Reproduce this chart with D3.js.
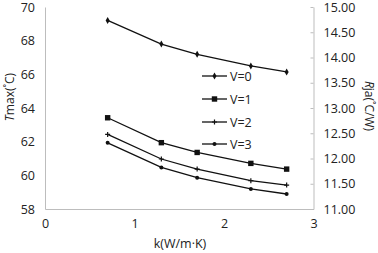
<!DOCTYPE html>
<html><head><meta charset="utf-8">
<script src="https://cdn.jsdelivr.net/npm/d3@7"></script>
<style>body{margin:0;background:#fff}svg text{font-family:"Open Sans",sans-serif;fill:#222}</style>
</head><body><svg id="c" width="378" height="253"></svg>
<script>
const kValues = [0.7, 1.3, 1.7, 2.3, 2.7];
const seriesNames = ["V=0", "V=1", "V=2", "V=3"];
const v0 = [69.2, 67.8, 67.19, 66.5, 66.14];
const v1 = [63.42, 61.94, 61.36, 60.71, 60.37];
const v2 = [62.43, 60.97, 60.37, 59.68, 59.42];
const v3 = [61.93, 60.47, 59.86, 59.19, 58.89];
const xTicks = [0, 1, 2, 3];
const yTicks = [58, 60, 62, 64, 66, 68, 70];
const y2Ticks = [11, 11.5, 12, 12.5, 13, 13.5, 14, 14.5, 15];

const svg = d3.select("#c");
const x = d3.scaleLinear().domain([0, 3]).range([45, 313.5]);
const y = d3.scaleLinear().domain([58, 70]).range([209, 7]);
const y2 = d3.scaleLinear().domain([11, 15]).range([209, 7]);
const grey = "#bdbdbd";

// axes
const gx = svg.append("g").attr("transform", "translate(0,209)")
  .call(d3.axisBottom(x).tickValues(xTicks).tickSize(0).tickPadding(10).tickFormat(d3.format("d")));
const gy = svg.append("g").attr("transform", "translate(45,0)")
  .call(d3.axisLeft(y).tickValues(yTicks).tickSize(0).tickPadding(10));
const gy2 = svg.append("g").attr("transform", "translate(313.5,0)")
  .call(d3.axisRight(y2).tickValues(y2Ticks).tickSizeInner(-3).tickSizeOuter(0).tickPadding(10).tickFormat(d3.format(".2f")));
[gx, gy, gy2].forEach(g => {
  g.select(".domain").attr("stroke", grey);
  g.selectAll(".tick line").attr("stroke", grey);
  g.selectAll("text").attr("font-size", 12.5).attr("font-family", "Open Sans").attr("fill", "#222");
});

// axis titles
svg.append("text").attr("x", 180).attr("y", 248).attr("text-anchor", "middle").attr("font-size", 12.5).text("k(W/m·K)");
const t1 = svg.append("text").attr("transform", "translate(14,97) rotate(-90)").attr("text-anchor", "middle").attr("font-size", 12);
t1.append("tspan").attr("font-style", "italic").text("T");
t1.append("tspan").text("max(˚C)");
const t2 = svg.append("text").attr("transform", "translate(365,106) rotate(90)").attr("text-anchor", "middle").attr("font-size", 12);
t2.append("tspan").attr("font-style", "italic").text("R");
t2.append("tspan").text("ja(˚C/W)");

const data = [v0, v1, v2, v3];
const line = d3.line().x((d, i) => x(kValues[i])).y(d => y(d));

function marker(g, type, cx, cy) {
  if (type === 0) g.append("path").attr("d", d3.symbol(d3.symbolDiamond, 14)()).attr("transform", `translate(${cx},${cy})`).attr("fill", "#111");
  else if (type === 1) g.append("rect").attr("x", cx - 2.7).attr("y", cy - 2.7).attr("width", 5.4).attr("height", 5.4).attr("fill", "#111");
  else if (type === 2) g.append("path").attr("d", `M${cx-2.5},${cy}H${cx+2.5}M${cx},${cy-2.5}V${cy+2.5}`).attr("stroke", "#111").attr("stroke-width", 1.2);
  else g.append("circle").attr("cx", cx).attr("cy", cy).attr("r", 2).attr("fill", "#111");
}

data.forEach((s, k) => {
  svg.append("path").datum(s).attr("d", line).attr("fill", "none").attr("stroke", "#111").attr("stroke-width", 1.3);
  const g = svg.append("g");
  s.forEach((d, i) => marker(g, k, x(kValues[i]), y(d)));
});

// legend
const legY = [76, 99, 122, 144];
seriesNames.forEach((n, k) => {
  const g = svg.append("g");
  g.append("line").attr("x1", 202).attr("x2", 227).attr("y1", legY[k]).attr("y2", legY[k]).attr("stroke", "#111").attr("stroke-width", 1.3);
  marker(g, k, 214.5, legY[k]);
  g.append("text").attr("x", 230).attr("y", legY[k] + 4.5).attr("font-size", 12.5).text(n);
});
</script></body></html>
